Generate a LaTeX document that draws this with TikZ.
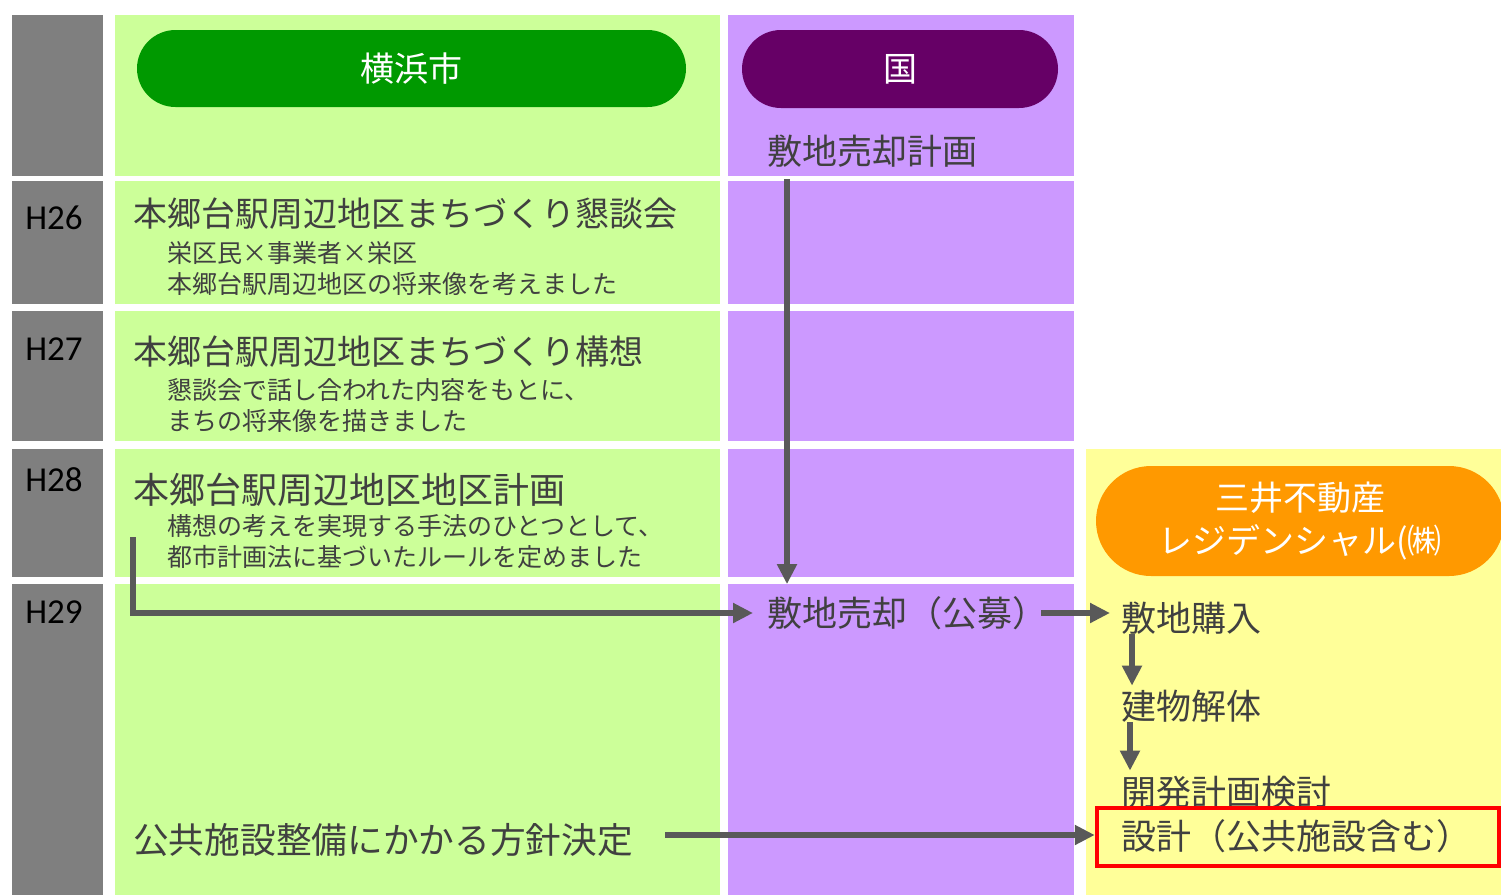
\documentclass[tikz,border=0pt]{standalone}
\usepackage{fontspec}
\setmainfont{Noto Sans CJK JP}
\newfontfamily\latinf{Carlito}
\usetikzlibrary{arrows.meta,shapes.misc}
\definecolor{graybar}{HTML}{7F7F7F}
\definecolor{greenbg}{HTML}{CCFF99}
\definecolor{purplebg}{HTML}{CC99FF}
\definecolor{yellowbg}{HTML}{FFFF99}
\definecolor{greenpill}{HTML}{009900}
\definecolor{purplepill}{HTML}{660066}
\definecolor{orangepill}{HTML}{FF9900}
\definecolor{textc}{HTML}{404040}
\definecolor{arrowc}{HTML}{595959}
\definecolor{redbox}{HTML}{FF0000}
\tikzset{
  pill/.style={rounded rectangle, inner sep=0pt, text=white, align=center},
  txt/.style={inner sep=0pt, anchor=west, text=textc, font=\fontsize{35}{42}\selectfont},
  ttl/.style={txt, font=\fontsize{34}{40}\selectfont},
  sub/.style={txt, font=\fontsize{25}{30}\selectfont},
  yr/.style={inner sep=0pt, text=black, font=\latinf\fontsize{35}{40}\selectfont},
  arr/.style={draw=arrowc, line width=5.5pt, -{Triangle[length=20pt,width=19pt]}}
}
\begin{document}
\begin{tikzpicture}[x=1pt,y=-1pt]
\useasboundingbox (0,0) rectangle (1501,895);
\fill[white] (0,0) rectangle (1501,895);
% gray year column
\fill[graybar] (12,15) rectangle (103,176);
\fill[graybar] (12,181) rectangle (103,304);
\fill[graybar] (12,311) rectangle (103,441);
\fill[graybar] (12,449) rectangle (103,577);
\fill[graybar] (12,584) rectangle (103,895);
% green column
\fill[greenbg] (115,15) rectangle (720,176);
\fill[greenbg] (115,181) rectangle (720,304);
\fill[greenbg] (115,311) rectangle (720,441);
\fill[greenbg] (115,449) rectangle (720,577);
\fill[greenbg] (115,584) rectangle (720,895);
% purple column
\fill[purplebg] (728,15) rectangle (1074,176);
\fill[purplebg] (728,181) rectangle (1074,304);
\fill[purplebg] (728,311) rectangle (1074,441);
\fill[purplebg] (728,449) rectangle (1074,577);
\fill[purplebg] (728,584) rectangle (1074,895);
% yellow column
\fill[yellowbg] (1086,449) rectangle (1501,895);

% header pills
\node[pill, fill=greenpill, minimum width=549pt, minimum height=77pt,
      font=\fontsize{34}{40}\selectfont] (yokohama) at (411.5,68.5) {横浜市};
\node[pill, fill=purplepill, minimum width=316pt, minimum height=78pt,
      font=\fontsize{34}{40}\selectfont] (kuni) at (900,69) {国};
\node[pill, fill=orangepill, minimum width=408pt, minimum height=110pt,
      font=\fontsize{34}{43}\selectfont] (mitsui) at (1300,521) {三井不動産\\レジデンシャル(㈱};

% year labels
\node[yr] (h26) at (54,218) {H26};
\node[yr] (h27) at (54,349) {H27};
\node[yr] (h28) at (54,480) {H28};
\node[yr] (h29) at (54,612) {H29};

% Yokohama column texts
\node[ttl] (t26) at (133,214) {本郷台駅周辺地区まちづくり懇談会};
\node[sub] (s26a) at (167,253) {栄区民×事業者×栄区};
\node[sub] (s26b) at (167,284) {本郷台駅周辺地区の将来像を考えました};
\node[ttl] (t27) at (133,352) {本郷台駅周辺地区まちづくり構想};
\node[sub] (s27a) at (167,390) {懇談会で話し合われた内容をもとに、};
\node[sub] (s27b) at (167,421) {まちの将来像を描きました};
\node[ttl, font=\fontsize{36}{42}\selectfont] (t28) at (133,490) {本郷台駅周辺地区地区計画};
\node[sub] (s28a) at (167,526) {構想の考えを実現する手法のひとつとして、};
\node[sub] (s28b) at (167,557) {都市計画法に基づいたルールを定めました};
\node[txt, font=\fontsize{35.7}{42}\selectfont] (policy) at (133,840) {公共施設整備にかかる方針決定};

% national column texts
\node[txt] (plan) at (767,151) {敷地売却計画};
\node[txt] (sale) at (767,613) {敷地売却（公募）};

% Mitsui column texts
\node[txt] (buy) at (1121,618) {敷地購入};
\node[txt] (demo) at (1121,706) {建物解体};
\node[txt] (dev) at (1121,792) {開発計画検討};
\node[draw=redbox, line width=4.5pt, minimum width=402pt, minimum height=58pt, inner sep=0pt] (design) at (1298,837) {};
\node[txt] (designt) at (1121,836) {設計（公共施設含む）};

% connectors
\coordinate (lstart) at (133,537);
\draw[arr, shorten <=12pt, shorten >=12pt] ([xshift=20pt]plan.south west) -- ([xshift=20pt]sale.north west);
\draw[arr, shorten >=14pt] (lstart) |- (sale.west);
\draw[arr, shorten <=-6pt, shorten >=11pt] (sale.east) -- (sale.east -| buy.west);
\draw[arr, shorten >=4pt] ([xshift=11pt]buy.south west) -- ([xshift=11pt]demo.north west);
\draw[arr, shorten >=5pt] ([xshift=9pt]demo.south west) -- ([xshift=9pt]dev.north west);
\draw[arr, shorten <=32pt] ([yshift=5pt]policy.east) -- ([yshift=5pt]policy.east -| design.west);
\end{tikzpicture}
\end{document}
